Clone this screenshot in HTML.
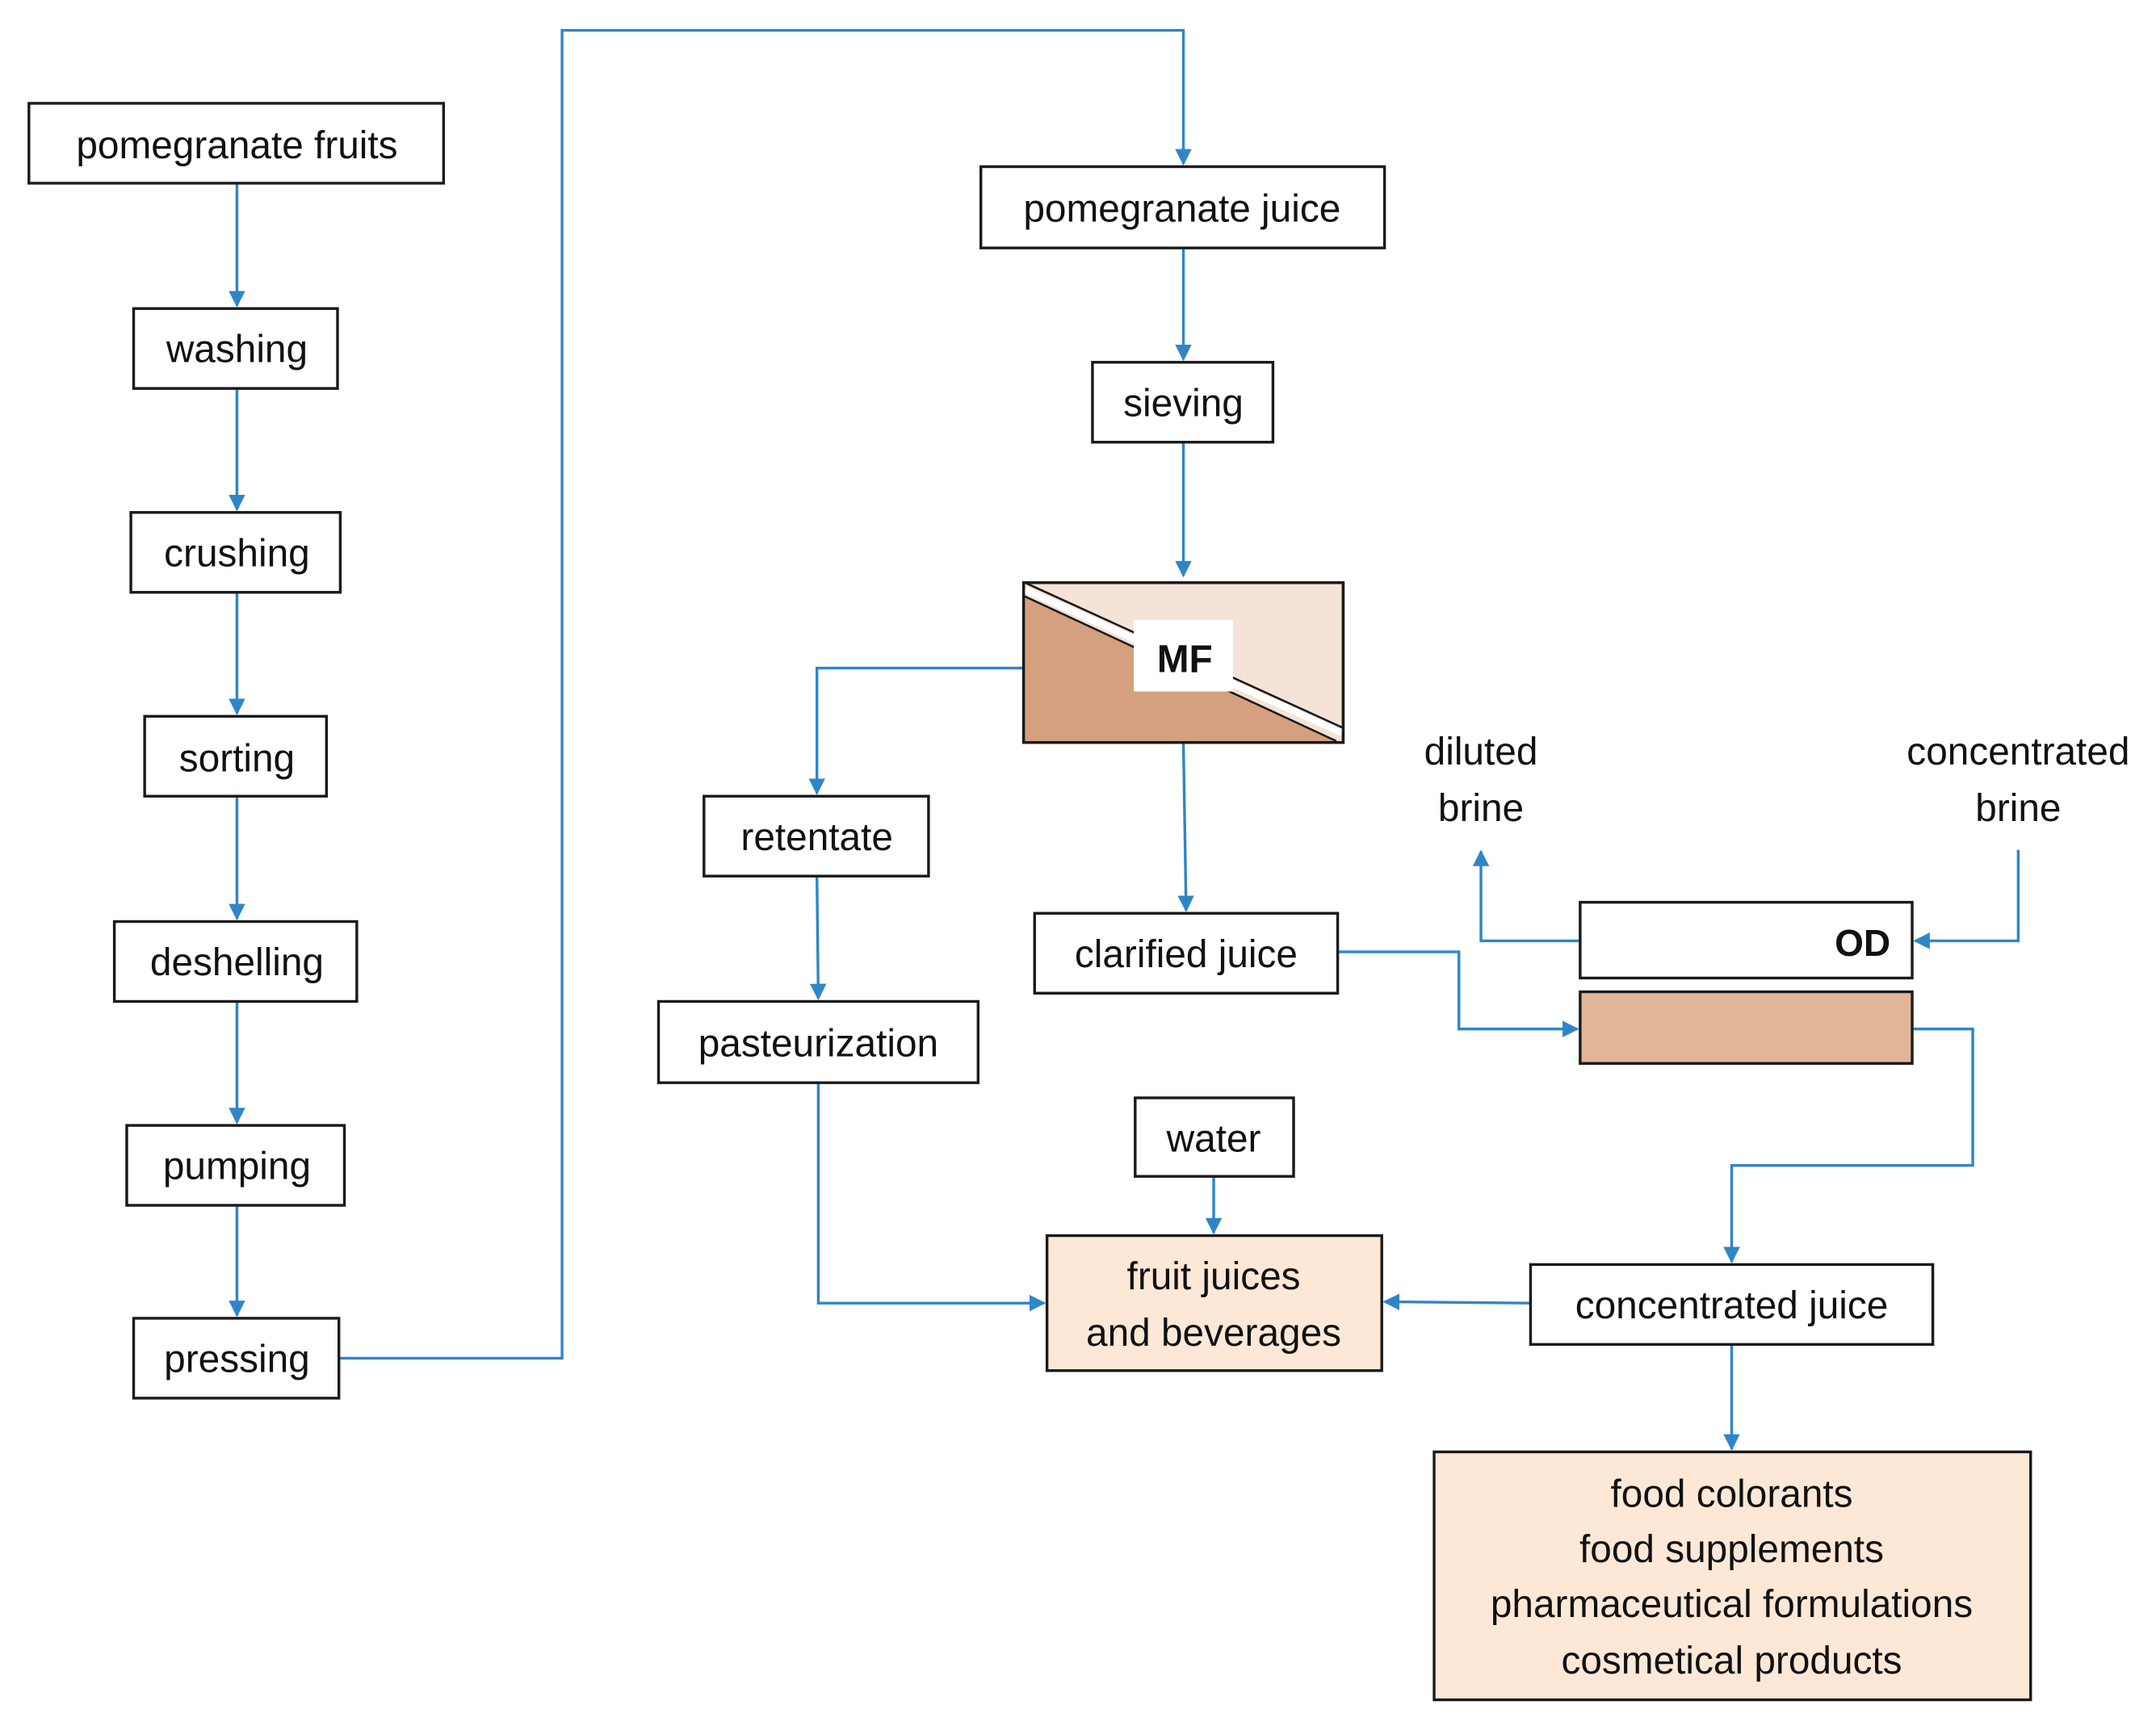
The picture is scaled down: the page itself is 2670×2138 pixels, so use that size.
<!DOCTYPE html>
<html><head><meta charset="utf-8"><style>html,body{margin:0;padding:0;background:#fff}svg{display:block}</style></head><body>
<svg width="2670" height="2138" viewBox="0 0 1565 1253" preserveAspectRatio="none" xmlns="http://www.w3.org/2000/svg">
<defs><marker id="a" viewBox="0 0 10 10" refX="9" refY="5" markerWidth="12" markerHeight="12" orient="auto" markerUnits="userSpaceOnUse"><path d="M0,0L10,5L0,10z" fill="#2e86c8"/></marker></defs>
<g fill="none" stroke="#2e86c8" stroke-width="2" marker-end="url(#a)">
<path d="M172,133V222"/><path d="M172,282V370"/><path d="M172,430V518"/><path d="M172,578V667"/><path d="M172,727V815"/><path d="M172,875V955"/>
<path d="M246,986H408V22H859V119"/>
<path d="M859,180V261"/><path d="M859,321V418"/>
<path d="M743,485H593V576"/><path d="M593,636L594,725"/>
<path d="M594,786V946H758"/>
<path d="M859,539L861,661"/>
<path d="M971,691H1059V747H1145"/>
<path d="M1147,683H1075V618"/>
<path d="M1465,617V683H1390"/>
<path d="M1388,747H1432V846H1257V916"/>
<path d="M1111,946L1005,945"/>
<path d="M881,854V895"/>
<path d="M1257,976V1052"/>
</g>
<g stroke="#1a1a1a" stroke-width="2">
<rect x="21" y="75" width="301" height="58" fill="#fff"/>
<rect x="97" y="224" width="148" height="58" fill="#fff"/>
<rect x="95" y="372" width="152" height="58" fill="#fff"/>
<rect x="105" y="520" width="132" height="58" fill="#fff"/>
<rect x="83" y="669" width="176" height="58" fill="#fff"/>
<rect x="92" y="817" width="158" height="58" fill="#fff"/>
<rect x="97" y="957" width="149" height="58" fill="#fff"/>
<rect x="712" y="121" width="293" height="59" fill="#fff"/>
<rect x="793" y="263" width="131" height="58" fill="#fff"/>
<rect x="511" y="578" width="163" height="58" fill="#fff"/>
<rect x="478" y="727" width="232" height="59" fill="#fff"/>
<rect x="751" y="663" width="220" height="58" fill="#fff"/>
<rect x="1147" y="655" width="241" height="55" fill="#fff"/>
<rect x="1147" y="720" width="241" height="52" fill="#e2b598"/>
<rect x="824" y="797" width="115" height="57" fill="#fff"/>
<rect x="760" y="897" width="243" height="98" fill="#fde8d7"/>
<rect x="1111" y="918" width="292" height="58" fill="#fff"/>
<rect x="1041" y="1054" width="433" height="180" fill="#fde8d7"/>
<rect x="743" y="423" width="232" height="116" fill="#f5e3d8"/>
</g>
<polygon points="744,433 744,538 970,538" fill="#d4a07f"/>
<line x1="744" y1="428" x2="974" y2="532" stroke="#fff" stroke-width="5"/>
<line x1="744" y1="423" x2="974" y2="528" stroke="#1a1a1a" stroke-width="1.5"/>
<line x1="744" y1="433" x2="970" y2="538" stroke="#1a1a1a" stroke-width="1.5"/>
<rect x="743" y="423" width="232" height="116" fill="none" stroke="#1a1a1a" stroke-width="2"/>
<rect x="823" y="450" width="72" height="52" fill="#fff"/>
<g font-family="Liberation Sans, sans-serif" font-size="28" fill="#111" text-anchor="middle">
<text x="172" y="115">pomegranate fruits</text>
<text x="172" y="263">washing</text>
<text x="172" y="411">crushing</text>
<text x="172" y="560">sorting</text>
<text x="172" y="708">deshelling</text>
<text x="172" y="856">pumping</text>
<text x="172" y="996">pressing</text>
<text x="858" y="161">pomegranate juice</text>
<text x="859" y="302">sieving</text>
<text x="593" y="617">retentate</text>
<text x="594" y="767">pasteurization</text>
<text x="861" y="702">clarified juice</text>
<text x="881" y="836">water</text>
<text x="881" y="936">fruit juices</text>
<text x="881" y="977">and beverages</text>
<text x="1257" y="957">concentrated juice</text>
<text x="1075" y="555">diluted</text>
<text x="1075" y="596">brine</text>
<text x="1465" y="555">concentrated</text>
<text x="1465" y="596">brine</text>
<text x="1257" y="1094">food colorants</text>
<text x="1257" y="1134">food supplements</text>
<text x="1257" y="1174">pharmaceutical formulations</text>
<text x="1257" y="1215">cosmetical products</text>
<text x="860" y="488" font-weight="bold" font-size="28">MF</text>
<text x="1352" y="694" font-weight="bold" font-size="27">OD</text>
</g>
</svg>
</body></html>
